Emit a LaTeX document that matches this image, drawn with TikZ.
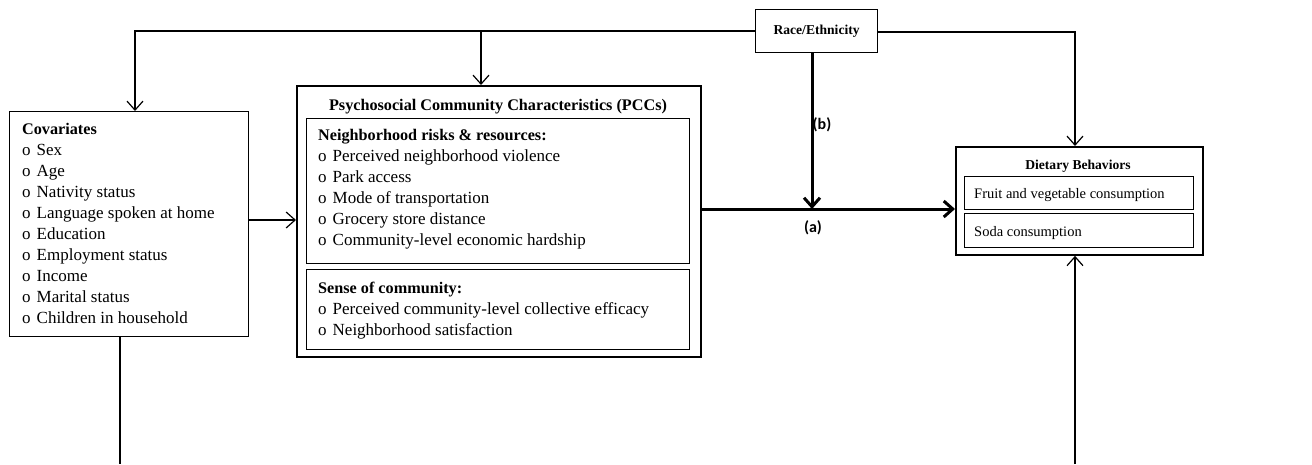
\documentclass[tikz,border=0pt]{standalone}
\usepackage{fontspec}
\setmainfont{Liberation Serif}
\newfontfamily\labelfont{Carlito}
\usetikzlibrary{arrows.meta}
\tikzset{
  box/.style={draw, line width=1.2pt, anchor=north west, inner sep=0pt},
  outerbox/.style={box, line width=1.8pt},
  item/.style={anchor=base west, inner sep=0pt, font=\fontsize{17}{20}\selectfont},
  dietitem/.style={item, font=\fontsize{14.5}{17}\selectfont},
  head/.style={inner sep=0pt, font=\fontsize{16.2}{19}\selectfont\bfseries},
  smallhead/.style={inner sep=0pt, font=\fontsize{13.6}{16}\selectfont\bfseries},
  link/.style={line width=1.2pt, -{Straight Barb[length=9pt,width=16pt,line width=1.2pt]}},
  mainlink/.style={line width=3pt, -{Straight Barb[length=9pt,width=16pt,line width=3pt]}},
  pathlabel/.style={inner sep=0pt, font=\fontsize{16}{18}\labelfont\bfseries}
}
\newcommand{\bul}{o\hspace{6pt}}
\begin{document}
\begin{tikzpicture}[x=1pt,y=-1pt]
    \useasboundingbox (0,0) rectangle (1312,464);
    % Kästen
    \node[box, minimum width=122, minimum height=43] (race) at (755,9) {};
    \node[smallhead] (racetxt) at (race.center) {Race/Ethnicity};
    \node[box, minimum width=239, minimum height=225] (cov) at (9,111) {};
    \node[outerbox, minimum width=404, minimum height=271] (pcc) at (296,85) {};
    \node[box, minimum width=383, minimum height=145] (risk) at (306,118) {};
    \node[box, minimum width=383, minimum height=80] (sense) at (306,269) {};
    \node[outerbox, minimum width=247, minimum height=108] (diet) at (955,146) {};
    \node[box, minimum width=229, minimum height=33] (fruit) at (964,176) {};
    \node[box, minimum width=229, minimum height=34] (soda) at (964,213) {};
    % Texte
    \node[head, anchor=base west] (covhead) at (22,134) {Covariates};
    \foreach \t [count=\i] in {Sex, Age, Nativity status, Language spoken at home, Education,
        Employment status, Income, Marital status, Children in household}
      \node[item] (cov\i) at (22,{134+21*\i}) {\bul \t};
    \node[head, anchor=base] (pcchead) at (498,110) {Psychosocial Community Characteristics (PCCs)};
    \node[head, anchor=base west] (riskhead) at (318,140) {Neighborhood risks \& resources:};
    \foreach \t [count=\i] in {Perceived neighborhood violence, Park access, Mode of transportation,
        Grocery store distance, Community-level economic hardship}
      \node[item] (risk\i) at (318,{140+21*\i}) {\bul \t};
    \node[head, anchor=base west] (sensehead) at (318,293) {Sense of community:};
    \node[item] (sense1) at (318,314) {\bul Perceived community-level collective efficacy};
    \node[item] (sense2) at (318,335) {\bul Neighborhood satisfaction};
    \node[smallhead, anchor=base] (diethead) at (1078,169) {Dietary Behaviors};
    \node[dietitem] (fruittxt) at (974,198) {Fruit and vegetable consumption};
    \node[dietitem] (sodatxt) at (974,236) {Soda consumption};
    % Pfeile
    \coordinate (ajoin) at (812,209);
    \coordinate (covend) at (120,464);
    \coordinate (dietend) at (1075,464);
    \draw[link] (race.west |- 0,31) -- (135,31) -- (135,111);
    \draw[link] (481,31) -- (pcc.north -| 481,0);
    \draw[link] (race.east |- 0,32) -- (1075,32) -- (diet.north -| 1075,0);
    \draw[link] (cov.east |- 0,220) -- (pcc.west |- 0,220);
    \draw[line width=1.2pt] (cov.south -| covend) -- (covend);
    \draw[link] (dietend) -- (diet.south -| dietend);
    \draw[mainlink] (pcc.east |- ajoin) -- (diet.west |- ajoin);
    \draw[mainlink] (race.south -| ajoin) -- (ajoin);
    \node[pathlabel] (blabel) at (822,125) {(b)};
    \node[pathlabel] (alabel) at (813,228) {(a)};
\end{tikzpicture}
\end{document}
